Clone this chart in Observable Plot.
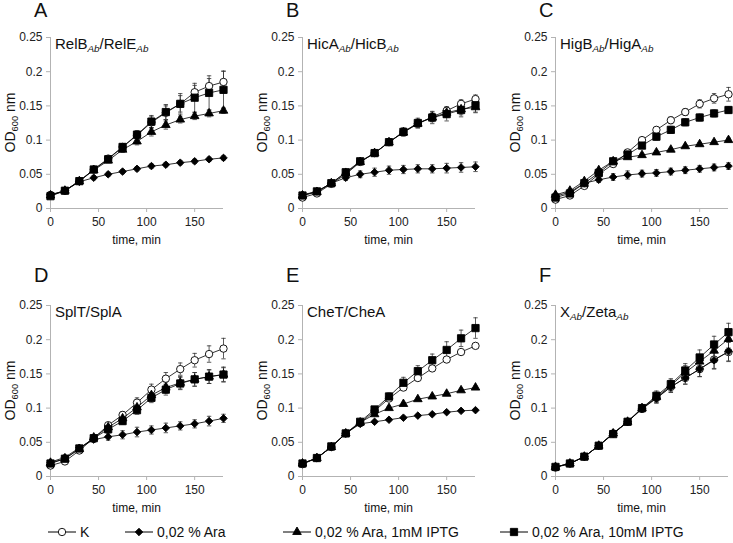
<!DOCTYPE html>
<html><head><meta charset="utf-8">
<script src="https://cdn.jsdelivr.net/npm/d3@7"></script>
<script src="https://cdn.jsdelivr.net/npm/@observablehq/plot@0.6"></script>
<style>
body{margin:0;background:#fff;font-family:"Liberation Sans",Arial,sans-serif;}
#fig{position:relative;width:733px;height:543px;overflow:hidden;background:#fff;}
#fig svg{position:absolute;overflow:visible;}
</style></head><body><div id="fig"></div>
<script>
// ---- data ----
const time = [0,15,30,45,60,75,90,105,120,135,150,165,180];
const seriesNames = ["K","0,02 % Ara","0,02 % Ara, 1mM IPTG","0,02 % Ara, 10mM IPTG"];
const seriesSymbols = ["circle","diamond2","triangle","square"];
const seriesFills = ["white","black","black","black"];
const panelLetters = ["A","B","C","D","E","F"];
// title segments: [text, isSubscript]
const panelTitles = [
  [["RelB",0],["Ab",1],["/RelE",0],["Ab",1]],
  [["HicA",0],["Ab",1],["/HicB",0],["Ab",1]],
  [["HigB",0],["Ab",1],["/HigA",0],["Ab",1]],
  [["SplT/SplA",0]],
  [["CheT/CheA",0]],
  [["X",0],["Ab",1],["/Zeta",0],["Ab",1]]
];
const yTicks = [0,0.05,0.1,0.15,0.2,0.25];
const xTicks = [0,50,100,150];
const xLabel = "time, min";

// Panel A
const A_K   = [0.020,0.026,0.040,0.057,0.073,0.090,0.107,0.126,0.140,0.153,0.170,0.179,0.185];
const A_Ara = [0.020,0.026,0.039,0.045,0.050,0.054,0.058,0.062,0.064,0.067,0.069,0.072,0.074];
const A_I1  = [0.019,0.026,0.040,0.056,0.070,0.086,0.098,0.112,0.122,0.130,0.135,0.139,0.143];
const A_I10 = [0.018,0.026,0.040,0.057,0.072,0.090,0.108,0.127,0.141,0.153,0.162,0.169,0.1735];
const A_K_e   = [0.002,0.002,0.002,0.003,0.003,0.004,0.005,0.008,0.010,0.012,0.010,0.011,0.016];
const A_Ara_e = [0.002,0.002,0.002,0.003,0.003,0.003,0.003,0.003,0.003,0.003,0.003,0.003,0.003];
const A_I1_e  = [0.002,0.002,0.002,0.003,0.003,0.004,0.005,0.006,0.006,0.005,0.005,0.005,0.004];
const A_I10_e = [0.002,0.002,0.002,0.003,0.003,0.004,0.006,0.009,0.011,0.015,0.021,0.025,0.027];
// Panel B
const B_K   = [0.016,0.022,0.036,0.050,0.068,0.081,0.097,0.112,0.124,0.134,0.143,0.153,0.160];
const B_Ara = [0.020,0.025,0.037,0.045,0.050,0.053,0.056,0.057,0.058,0.058,0.059,0.060,0.061];
const B_I1  = [0.019,0.024,0.037,0.052,0.068,0.081,0.097,0.111,0.124,0.133,0.140,0.145,0.148];
const B_I10 = [0.019,0.025,0.037,0.053,0.069,0.081,0.097,0.112,0.125,0.133,0.138,0.144,0.151];
const B_K_e   = [0.002,0.002,0.002,0.003,0.003,0.003,0.004,0.005,0.006,0.007,0.006,0.006,0.006];
const B_Ara_e = [0.002,0.002,0.003,0.004,0.005,0.006,0.006,0.006,0.006,0.006,0.007,0.007,0.007];
const B_I1_e  = [0.002,0.002,0.002,0.003,0.003,0.003,0.004,0.005,0.006,0.006,0.007,0.008,0.008];
const B_I10_e = [0.002,0.002,0.002,0.003,0.003,0.003,0.004,0.006,0.007,0.009,0.010,0.010,0.010];
// Panel C
const C_K   = [0.013,0.019,0.033,0.050,0.065,0.082,0.100,0.115,0.129,0.141,0.153,0.161,0.167];
const C_Ara = [0.018,0.024,0.037,0.042,0.046,0.049,0.051,0.052,0.054,0.056,0.058,0.060,0.062];
const C_I1  = [0.020,0.026,0.040,0.056,0.069,0.075,0.078,0.082,0.086,0.091,0.094,0.097,0.100];
const C_I10 = [0.016,0.022,0.037,0.052,0.069,0.079,0.092,0.105,0.115,0.126,0.133,0.139,0.144];
const C_K_e   = [0.002,0.002,0.002,0.003,0.003,0.003,0.004,0.004,0.005,0.005,0.006,0.007,0.010];
const C_Ara_e = [0.002,0.002,0.002,0.004,0.005,0.006,0.005,0.005,0.005,0.005,0.005,0.005,0.005];
const C_I1_e  = [0.002,0.002,0.002,0.002,0.002,0.002,0.002,0.002,0.002,0.002,0.002,0.002,0.003];
const C_I10_e = [0.002,0.002,0.002,0.003,0.003,0.004,0.004,0.005,0.005,0.005,0.005,0.005,0.005];
// Panel D
const D_K   = [0.016,0.022,0.038,0.056,0.075,0.090,0.108,0.127,0.143,0.157,0.170,0.179,0.187];
const D_Ara = [0.021,0.028,0.042,0.054,0.058,0.061,0.065,0.068,0.071,0.074,0.077,0.081,0.085];
const D_I1  = [0.020,0.026,0.040,0.057,0.072,0.085,0.101,0.119,0.130,0.137,0.142,0.146,0.149];
const D_I10 = [0.019,0.026,0.041,0.056,0.069,0.081,0.097,0.115,0.127,0.136,0.142,0.146,0.149];
const D_K_e   = [0.002,0.002,0.003,0.003,0.004,0.005,0.007,0.008,0.009,0.009,0.010,0.012,0.015];
const D_Ara_e = [0.002,0.002,0.003,0.004,0.005,0.006,0.007,0.006,0.007,0.006,0.006,0.007,0.006];
const D_I1_e  = [0.002,0.002,0.003,0.003,0.004,0.005,0.006,0.007,0.008,0.009,0.010,0.010,0.011];
const D_I10_e = [0.002,0.002,0.003,0.003,0.004,0.005,0.006,0.007,0.008,0.009,0.010,0.010,0.010];
// Panel E
const E_K   = [0.018,0.027,0.043,0.063,0.078,0.096,0.114,0.130,0.144,0.158,0.171,0.182,0.191];
const E_Ara = [0.019,0.027,0.043,0.063,0.077,0.080,0.083,0.086,0.089,0.091,0.094,0.096,0.097];
const E_I1  = [0.019,0.027,0.043,0.063,0.079,0.091,0.100,0.106,0.113,0.117,0.121,0.126,0.130];
const E_I10 = [0.019,0.027,0.044,0.063,0.080,0.098,0.117,0.137,0.154,0.170,0.185,0.202,0.217];
const E_K_e   = [0.002,0.002,0.002,0.002,0.002,0.002,0.002,0.002,0.002,0.003,0.003,0.003,0.003];
const E_Ara_e = [0.002,0.002,0.002,0.002,0.002,0.002,0.002,0.002,0.002,0.002,0.002,0.002,0.002];
const E_I1_e  = [0.002,0.002,0.002,0.002,0.002,0.002,0.002,0.002,0.002,0.002,0.002,0.002,0.002];
const E_I10_e = [0.002,0.002,0.002,0.002,0.003,0.004,0.005,0.008,0.008,0.009,0.012,0.012,0.015];
// Panel F
const F_K   = [0.013,0.019,0.029,0.045,0.063,0.080,0.099,0.115,0.131,0.144,0.157,0.171,0.182];
const F_Ara = [0.014,0.019,0.029,0.045,0.063,0.080,0.099,0.114,0.131,0.144,0.157,0.170,0.183];
const F_I1  = [0.014,0.019,0.029,0.045,0.063,0.080,0.100,0.116,0.133,0.152,0.168,0.184,0.201];
const F_I10 = [0.014,0.019,0.029,0.045,0.062,0.080,0.100,0.118,0.135,0.155,0.174,0.193,0.211];
const F_K_e   = [0.002,0.002,0.002,0.003,0.003,0.003,0.005,0.007,0.008,0.009,0.011,0.013,0.014];
const F_Ara_e = [0.002,0.002,0.002,0.003,0.003,0.003,0.005,0.007,0.008,0.009,0.011,0.013,0.014];
const F_I1_e  = [0.002,0.002,0.002,0.003,0.003,0.003,0.005,0.007,0.008,0.010,0.010,0.012,0.013];
const F_I10_e = [0.002,0.002,0.002,0.003,0.003,0.003,0.005,0.007,0.008,0.010,0.011,0.012,0.013];

const panelValues = [
  [A_K,A_Ara,A_I1,A_I10],[B_K,B_Ara,B_I1,B_I10],[C_K,C_Ara,C_I1,C_I10],
  [D_K,D_Ara,D_I1,D_I10],[E_K,E_Ara,E_I1,E_I10],[F_K,F_Ara,F_I1,F_I10]
];
const panelErrors = [
  [A_K_e,A_Ara_e,A_I1_e,A_I10_e],[B_K_e,B_Ara_e,B_I1_e,B_I10_e],[C_K_e,C_Ara_e,C_I1_e,C_I10_e],
  [D_K_e,D_Ara_e,D_I1_e,D_I10_e],[E_K_e,E_Ara_e,E_I1_e,E_I10_e],[F_K_e,F_Ara_e,F_I1_e,F_I10_e]
];

// ---- layout ----
const FONT = "'Liberation Sans', Arial, sans-serif";
const plotW = 173, plotH = 171;
const mL = 50, mT = 37, mB = 47;
const colLeft = [0, 252, 505];
const rowTop = [0, 268];
const letterY = [17, 14];
const fig = document.getElementById("fig");

const symbolR = {circle: 3.7, diamond2: 3.4, triangle: 3.2, square: 4.1};
const capSymbol = {draw(ctx, size) { const w = Math.sqrt(size / Math.PI); ctx.moveTo(-w, 0); ctx.lineTo(w, 0); }};

function addText(g, x, y, segs, size, opts = {}) {
  const t = g.append("text").attr("x", x).attr("y", y)
    .attr("font-family", FONT).attr("font-size", size).attr("fill", "#111")
    .attr("text-anchor", opts.anchor || "start");
  if (opts.transform) t.attr("transform", opts.transform);
  let shifted = false;
  segs.forEach(([s, sub]) => {
    const ts = t.append("tspan").text(s);
    if (sub) {
      ts.attr("font-size", size * 0.66).attr("dy", shifted ? 0 : size * 0.22);
      if (sub === 1) ts.attr("font-style", "italic");
      shifted = true;
    } else if (shifted) {
      ts.attr("dy", -size * 0.22);
      shifted = false;
    }
  });
  return t;
}

panelValues.forEach((vals, p) => {
  const col = p % 3, row = Math.floor(p / 3);
  const width = col === 2 ? 228 : 245;
  const rows = [];
  vals.forEach((arr, s) => arr.forEach((v, j) => rows.push({s, t: time[j], v, e: panelErrors[p][s][j]})));
  const marks = [
    Plot.ruleX([0], {y1: 0, y2: 0.25, stroke: "#b3b3b3"}),
    Plot.ruleY([0], {x1: 0, x2: 180, stroke: "#b3b3b3"}),
    Plot.axisX({ticks: xTicks, tickSize: 4, tickPadding: 5, stroke: "#b3b3b3", fill: "#222", label: null, fontSize: 12}),
    Plot.axisY({ticks: yTicks, tickSize: 4, tickPadding: 4, stroke: "#b3b3b3", fill: "#222", label: null, fontSize: 12, tickFormat: d => String(d)}),
    Plot.ruleX(rows, {x: "t", y1: d => d.v - d.e, y2: d => d.v + d.e, stroke: "#333", strokeWidth: 0.8}),
    Plot.dot(rows, {x: "t", y: d => d.v + d.e, symbol: capSymbol, r: 2.2, stroke: "#333", strokeWidth: 0.8, fill: "none"}),
    Plot.dot(rows, {x: "t", y: d => d.v - d.e, symbol: capSymbol, r: 2.2, stroke: "#333", strokeWidth: 0.8, fill: "none"})
  ];
  vals.forEach((arr, s) => {
    const sub = rows.filter(d => d.s === s);
    marks.push(Plot.line(sub, {x: "t", y: "v", stroke: "#000", strokeWidth: 0.8}));
    marks.push(Plot.dot(sub, {x: "t", y: "v", symbol: seriesSymbols[s], r: symbolR[seriesSymbols[s]], fill: seriesFills[s], stroke: "#000", strokeWidth: 0.9}));
  });
  const svg = Plot.plot({
    width, height: mT + plotH + mB,
    marginLeft: mL, marginRight: width - mL - plotW, marginTop: mT, marginBottom: mB,
    x: {domain: [0, 180], label: null},
    y: {domain: [0, 0.25], label: null},
    style: {fontFamily: FONT, fontSize: "12px", color: "#222", background: "transparent", overflow: "visible"},
    marks
  });
  svg.style.left = colLeft[col] + "px";
  svg.style.top = rowTop[row] + "px";
  const g = d3.select(svg).append("g");
  addText(g, 34, letterY[row], [[panelLetters[p], 0]], 20);
  addText(g, mL + 5, mT + 12, panelTitles[p], 15);
  addText(g, mL + plotW / 2, mT + plotH + 36, [[xLabel, 0]], 12, {anchor: "middle"});
  addText(g, 0, 0, [["OD", 0], ["600", 2], [" nm", 0]], 14,
    {anchor: "middle", transform: `translate(${mL - 35},${mT + plotH / 2}) rotate(-90)`});
  fig.appendChild(svg);
});

// ---- legend ----
const legendX = [62, 139, 297, 514];
const lg = d3.select(fig).append("svg").attr("width", 733).attr("height", 28)
  .style("left", "0px").style("top", "518px");
const symMap = {circle: d3.symbolCircle, diamond2: d3.symbolDiamond2, triangle: d3.symbolTriangle, square: d3.symbolSquare};
seriesNames.forEach((name, s) => {
  const cx = legendX[s], cy = 14;
  lg.append("line").attr("x1", cx - 14).attr("x2", cx + 14).attr("y1", cy).attr("y2", cy)
    .attr("stroke", "#000").attr("stroke-width", 1);
  const r = symbolR[seriesSymbols[s]];
  lg.append("path").attr("d", d3.symbol(symMap[seriesSymbols[s]], Math.PI * r * r)())
    .attr("transform", `translate(${cx},${cy})`)
    .attr("fill", seriesFills[s]).attr("stroke", "#000").attr("stroke-width", 0.9);
  lg.append("text").attr("x", cx + 18).attr("y", cy + 5).attr("font-family", FONT)
    .attr("font-size", 14).attr("fill", "#111").text(name);
});
</script></body></html>
